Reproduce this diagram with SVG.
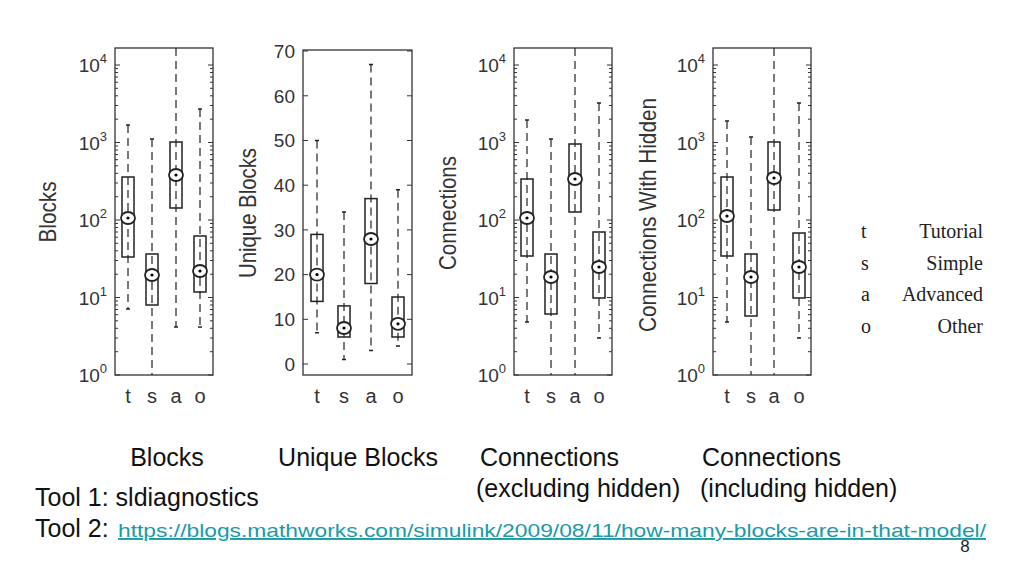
<svg xmlns="http://www.w3.org/2000/svg" xmlns:xlink="http://www.w3.org/1999/xlink" width="1024" height="576" viewBox="0 0 1024 576">
<style>
text{font-family:"Liberation Sans",Arial,sans-serif;fill:#222}
.ax{fill:none;stroke:#333;stroke-width:1.3}
.tk{stroke:#333;stroke-width:1}
.wh{stroke:#222;stroke-width:1.2;stroke-dasharray:8,5}
.cap{stroke:#222;stroke-width:1.5}
.bx{fill:none;stroke:#222;stroke-width:1.5}
.md{fill:#fff;stroke:#222;stroke-width:1.8}
.tl{font-size:19px;text-anchor:end;fill:#333}
.sup{font-size:13px}
.yl{font-size:24px;text-anchor:middle;fill:#333}
.xl{font-size:20px;text-anchor:middle;fill:#333}
.lg{font-family:"Liberation Serif","Times New Roman",serif;font-size:20px}
.bt{font-size:25px;fill:#111}
</style>
<defs>
<g id="dec">
<path class="tk" d="M0 0h5M98 0h-5M0 -23.3h3M0 -37h3M0 -46.7h3M0 -54.2h3M0 -60.3h3M0 -65.5h3M0 -70h3M0 -74h3M98 -23.3h-3M98 -37h-3M98 -46.7h-3M98 -54.2h-3M98 -60.3h-3M98 -65.5h-3M98 -70h-3M98 -74h-3"/>
</g>
<g id="logaxis">
<use xlink:href="#dec" y="375"/><use xlink:href="#dec" y="297.5"/><use xlink:href="#dec" y="220"/><use xlink:href="#dec" y="142.5"/>
<path class="tk" d="M0 65h5M98 65h-5"/>
</g>
<g id="loglabels">
<text class="tl" x="-8" y="382">10<tspan class="sup" dy="-9">0</tspan></text>
<text class="tl" x="-8" y="305">10<tspan class="sup" dy="-9">1</tspan></text>
<text class="tl" x="-8" y="227">10<tspan class="sup" dy="-9">2</tspan></text>
<text class="tl" x="-8" y="150">10<tspan class="sup" dy="-9">3</tspan></text>
<text class="tl" x="-8" y="72">10<tspan class="sup" dy="-9">4</tspan></text>
</g>
</defs>
<rect width="1024" height="576" fill="#fff"/>

<g id="panel-blocks">
<rect class="ax" x="115" y="48" width="98" height="327"/>
<g transform="translate(115,0)"><use xlink:href="#logaxis"/><use xlink:href="#loglabels"/></g>
<text class="yl" transform="translate(56,212) rotate(-90)" textLength="61" lengthAdjust="spacingAndGlyphs">Blocks</text>
<text class="xl" x="128" y="403">t</text><text class="xl" x="152" y="403">s</text><text class="xl" x="176" y="403">a</text><text class="xl" x="200" y="403">o</text>
<path class="wh" d="M128 125V309M152 139V375M176 48V327M200 109V327"/>
<path class="cap" d="M126 125h4M126 309h4M150 139h4M174 327h4M198 109h4M198 327h4"/>
<rect class="bx" x="122" y="177" width="12" height="80"/>
<rect class="bx" x="146" y="254" width="12" height="51"/>
<rect class="bx" x="170" y="142" width="12" height="66"/>
<rect class="bx" x="194" y="236" width="12" height="56"/>
<ellipse class="md" cx="128" cy="218" rx="7" ry="6"/><circle cx="128" cy="218" r="1.6"/>
<ellipse class="md" cx="152" cy="275" rx="7" ry="6"/><circle cx="152" cy="275" r="1.6"/>
<ellipse class="md" cx="176" cy="175" rx="7" ry="6"/><circle cx="176" cy="175" r="1.6"/>
<ellipse class="md" cx="200" cy="271" rx="7" ry="6"/><circle cx="200" cy="271" r="1.6"/>
</g>

<g id="panel-unique">
<rect class="ax" x="303" y="50" width="109" height="325"/>
<path class="tk" d="M303 364h5M303 319.3h5M303 274.6h5M303 229.9h5M303 185.2h5M303 140.5h5M303 95.8h5M303 51h5M412 364h-5M412 319.3h-5M412 274.6h-5M412 229.9h-5M412 185.2h-5M412 140.5h-5M412 95.8h-5M412 51h-5"/>
<text class="tl" x="295" y="371">0</text><text class="tl" x="295" y="326">10</text><text class="tl" x="295" y="281">20</text><text class="tl" x="295" y="237">30</text><text class="tl" x="295" y="192">40</text><text class="tl" x="295" y="147">50</text><text class="tl" x="295" y="103">60</text><text class="tl" x="295" y="58">70</text>
<text class="yl" transform="translate(256,213) rotate(-90)" textLength="130" lengthAdjust="spacingAndGlyphs">Unique Blocks</text>
<text class="xl" x="317" y="403">t</text><text class="xl" x="344" y="403">s</text><text class="xl" x="371" y="403">a</text><text class="xl" x="398" y="403">o</text>
<path class="wh" d="M317 140.5V332.7M344 212V359.5M371 64.5V350.6M398 189.7V346"/>
<path class="cap" d="M315 140.5h4M315 332.7h4M342 212h4M342 359.5h4M369 64.5h4M369 350.6h4M396 189.7h4M396 346h4"/>
<rect class="bx" x="311" y="234.4" width="12" height="67"/>
<rect class="bx" x="338" y="305.9" width="12" height="31.1"/>
<rect class="bx" x="365" y="198.6" width="12" height="84.9"/>
<rect class="bx" x="392" y="297" width="12" height="40"/>
<ellipse class="md" cx="317" cy="274.6" rx="7" ry="6"/><circle cx="317" cy="274.6" r="1.6"/>
<ellipse class="md" cx="344" cy="328" rx="7" ry="6"/><circle cx="344" cy="328" r="1.6"/>
<ellipse class="md" cx="371" cy="239" rx="7" ry="6"/><circle cx="371" cy="239" r="1.6"/>
<ellipse class="md" cx="398" cy="323.8" rx="7" ry="6"/><circle cx="398" cy="323.8" r="1.6"/>
</g>

<g id="panel-connections">
<rect class="ax" x="514" y="48" width="98" height="327"/>
<g transform="translate(514,0)"><use xlink:href="#logaxis"/><use xlink:href="#loglabels"/></g>
<text class="yl" transform="translate(456,213) rotate(-90)" textLength="114" lengthAdjust="spacingAndGlyphs">Connections</text>
<text class="xl" x="527" y="403">t</text><text class="xl" x="551" y="403">s</text><text class="xl" x="575" y="403">a</text><text class="xl" x="599" y="403">o</text>
<path class="wh" d="M527 120V322M551 139V375M575 48V375M599 103V338"/>
<path class="cap" d="M525 120h4M525 322h4M549 139h4M597 103h4M597 338h4"/>
<rect class="bx" x="521" y="179" width="12" height="77"/>
<rect class="bx" x="545" y="254" width="12" height="60"/>
<rect class="bx" x="569" y="144" width="12" height="68"/>
<rect class="bx" x="593" y="232" width="12" height="66"/>
<ellipse class="md" cx="527" cy="218" rx="7" ry="6"/><circle cx="527" cy="218" r="1.6"/>
<ellipse class="md" cx="551" cy="277" rx="7" ry="6"/><circle cx="551" cy="277" r="1.6"/>
<ellipse class="md" cx="575" cy="179" rx="7" ry="6"/><circle cx="575" cy="179" r="1.6"/>
<ellipse class="md" cx="599" cy="267" rx="7" ry="6"/><circle cx="599" cy="267" r="1.6"/>
</g>

<g id="panel-hidden">
<rect class="ax" x="713" y="48" width="98" height="327"/>
<g transform="translate(713,0)"><use xlink:href="#logaxis"/><use xlink:href="#loglabels"/></g>
<text class="yl" transform="translate(656,215) rotate(-90)" textLength="234" lengthAdjust="spacingAndGlyphs">Connections With Hidden</text>
<text class="xl" x="727" y="403">t</text><text class="xl" x="751" y="403">s</text><text class="xl" x="774" y="403">a</text><text class="xl" x="799" y="403">o</text>
<path class="wh" d="M727 121V322M751 137V375M774 48V375M799 103V338"/>
<path class="cap" d="M725 121h4M725 322h4M749 137h4M797 103h4M797 338h4"/>
<rect class="bx" x="721" y="177" width="12" height="79"/>
<rect class="bx" x="745" y="254" width="12" height="62"/>
<rect class="bx" x="768" y="142" width="12" height="68"/>
<rect class="bx" x="793" y="233" width="12" height="65"/>
<ellipse class="md" cx="727" cy="216" rx="7" ry="6"/><circle cx="727" cy="216" r="1.6"/>
<ellipse class="md" cx="751" cy="277" rx="7" ry="6"/><circle cx="751" cy="277" r="1.6"/>
<ellipse class="md" cx="774" cy="178" rx="7" ry="6"/><circle cx="774" cy="178" r="1.6"/>
<ellipse class="md" cx="799" cy="267" rx="7" ry="6"/><circle cx="799" cy="267" r="1.6"/>
</g>

<g id="legend">
<text class="lg" x="861" y="238">t</text><text class="lg" x="983" y="238" text-anchor="end">Tutorial</text>
<text class="lg" x="861" y="270">s</text><text class="lg" x="983" y="270" text-anchor="end">Simple</text>
<text class="lg" x="861" y="301">a</text><text class="lg" x="983" y="301" text-anchor="end">Advanced</text>
<text class="lg" x="861" y="333">o</text><text class="lg" x="983" y="333" text-anchor="end">Other</text>
</g>

<g id="captions">
<text class="bt" x="167" y="466" text-anchor="middle">Blocks</text>
<text class="bt" x="358" y="466" text-anchor="middle">Unique Blocks</text>
<text class="bt" x="480" y="466">Connections</text>
<text class="bt" x="476" y="497">(excluding hidden)</text>
<text class="bt" x="702" y="466">Connections</text>
<text class="bt" x="700" y="497">(including hidden)</text>
<text class="bt" x="35" y="506">Tool 1: sldiagnostics</text>
<text class="bt" x="35" y="537">Tool 2:</text>
<text x="118" y="537" font-size="19" style="fill:#1a9aa6" text-decoration="underline" textLength="868" lengthAdjust="spacingAndGlyphs">https://blogs.mathworks.com/simulink/2009/08/11/how-many-blocks-are-in-that-model/</text>
<text x="965" y="552" font-size="17" text-anchor="middle">8</text>
</g>
</svg>
